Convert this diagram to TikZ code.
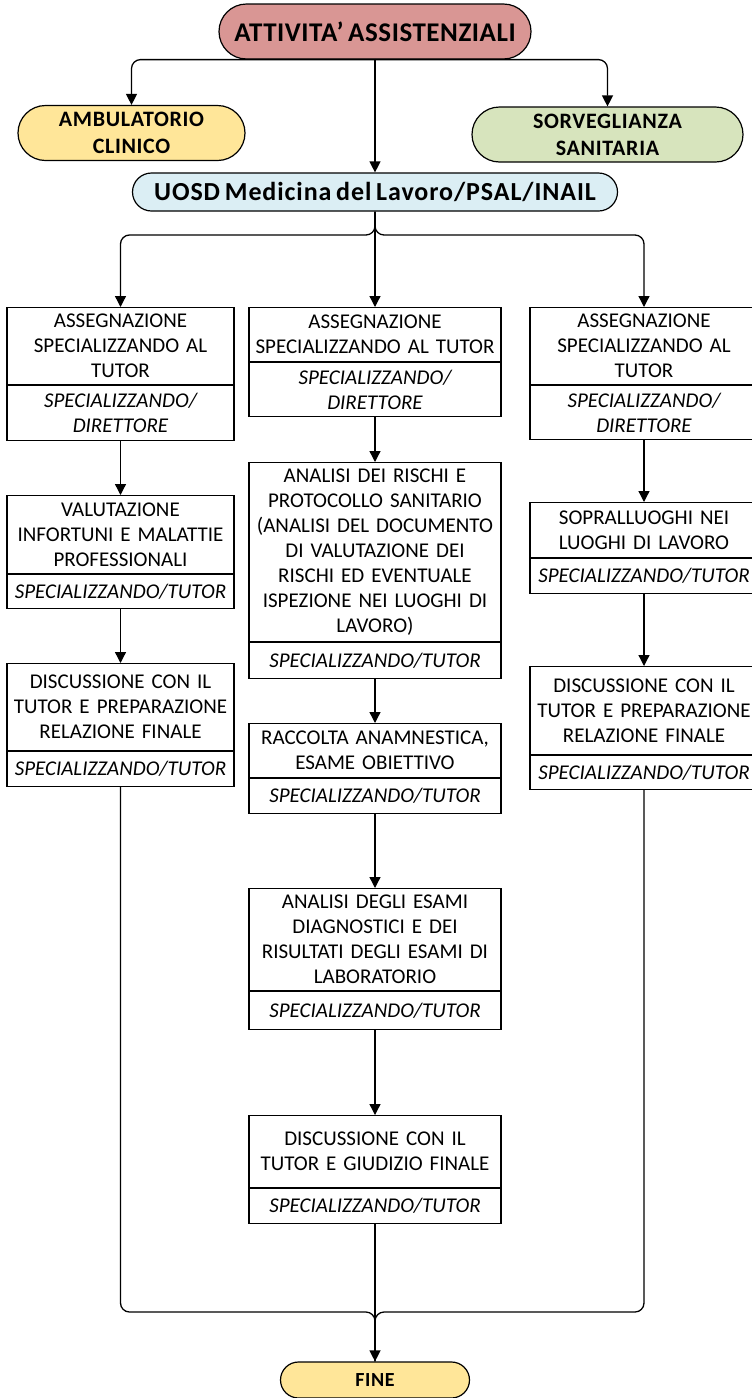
\documentclass[tikz,border=0pt]{standalone}
\usepackage{fontspec}
\setmainfont[WordSpace=0.7]{Carlito}
\usetikzlibrary{arrows.meta, shapes.misc, positioning}

\definecolor{pinkfill}{HTML}{D99694}
\definecolor{goldfill}{HTML}{FFE699}
\definecolor{olivefill}{HTML}{D7E4BD}
\definecolor{aquafill}{HTML}{DBEEF4}

\tikzset{
  term/.style={draw, rounded rectangle, line width=1.2pt, inner sep=0pt, align=center,
    font={\bfseries\fontsize{22}{27}\selectfont\addfontfeature{LetterSpace=3}}},
  task/.style={draw, line width=1.1pt, inner sep=0pt, align=center,
    font=\fontsize{21}{25}\selectfont},
  role/.style={task, font=\itshape\fontsize{21}{25}\selectfont},
  arr/.style={-{Triangle[length=11pt,width=11pt]}, line width=1.3pt},
}

\begin{document}
\begin{tikzpicture}[x=1pt, y=-1pt]
  \useasboundingbox (0,0) rectangle (752,1398);

  % terminals
  \node[term, fill=pinkfill, minimum width=312pt, minimum height=55pt,
    font={\bfseries\fontsize{27}{30}\selectfont\addfontfeature{LetterSpace=2}}] (top) at (375,31.5) {ATTIVITA’ ASSISTENZIALI};
  \node[term, fill=goldfill, minimum width=227pt, minimum height=55pt] (amb) at (131.5,133) {AMBULATORIO\\CLINICO};
  \node[term, fill=olivefill, minimum width=271pt, minimum height=55pt] (sorv) at (607.5,134.5) {SORVEGLIANZA\\SANITARIA};
  \node[term, fill=aquafill, minimum width=485pt, minimum height=38pt,
    font={\bfseries\fontsize{26}{28}\selectfont\addfontfeature{LetterSpace=3.5}}] (uosd) at (375,192) {UOSD Medicina del Lavoro/PSAL/INAIL};
  \node[term, fill=goldfill, minimum width=189pt, minimum height=36pt,
    font={\bfseries\fontsize{20}{24}\selectfont\addfontfeature{LetterSpace=3}}] (fine) at (375,1380) {FINE};

  % left column
  \node[task, anchor=north, text width=227pt, minimum height=77pt] (l1) at (120.5,307) {ASSEGNAZIONE\\SPECIALIZZANDO AL\\TUTOR};
  \node[role, below=0pt of l1, text width=227pt, minimum height=55pt] (l1r) {SPECIALIZZANDO/\\DIRETTORE};
  \node[task, anchor=north, text width=227pt, minimum height=78pt] (l2) at (120.5,495) {VALUTAZIONE\\INFORTUNI E MALATTIE\\PROFESSIONALI};
  \node[role, below=0pt of l2, text width=227pt, minimum height=34pt] (l2r) {SPECIALIZZANDO/TUTOR};
  \node[task, anchor=north, text width=227pt, minimum height=87pt] (l3) at (120.5,663) {DISCUSSIONE CON IL\\TUTOR E PREPARAZIONE\\RELAZIONE FINALE};
  \node[role, below=0pt of l3, text width=227pt, minimum height=35pt] (l3r) {SPECIALIZZANDO/TUTOR};

  % middle column
  \node[task, anchor=north, text width=252pt, minimum height=54pt] (m1) at (375,307) {ASSEGNAZIONE\\SPECIALIZZANDO AL TUTOR};
  \node[role, below=0pt of m1, text width=252pt, minimum height=54pt] (m1r) {SPECIALIZZANDO/\\DIRETTORE};
  \node[task, anchor=north, text width=252pt, minimum height=179pt] (m2) at (375,462) {ANALISI DEI RISCHI E\\PROTOCOLLO SANITARIO\\(ANALISI DEL DOCUMENTO\\DI VALUTAZIONE DEI\\RISCHI ED EVENTUALE\\ISPEZIONE NEI LUOGHI DI\\LAVORO)};
  \node[role, below=0pt of m2, text width=252pt, minimum height=36pt] (m2r) {SPECIALIZZANDO/TUTOR};
  \node[task, anchor=north, text width=252pt, minimum height=54pt] (m3) at (375,723) {RACCOLTA ANAMNESTICA,\\ESAME OBIETTIVO};
  \node[role, below=0pt of m3, text width=252pt, minimum height=35pt] (m3r) {SPECIALIZZANDO/TUTOR};
  \node[task, anchor=north, text width=252pt, minimum height=102pt] (m4) at (375,888) {ANALISI DEGLI ESAMI\\DIAGNOSTICI E DEI\\RISULTATI DEGLI ESAMI DI\\LABORATORIO};
  \node[role, below=0pt of m4, text width=252pt, minimum height=38pt] (m4r) {SPECIALIZZANDO/TUTOR};
  \node[task, anchor=north, text width=252pt, minimum height=72pt] (m5) at (375,1115) {DISCUSSIONE CON IL\\TUTOR E GIUDIZIO FINALE};
  \node[role, below=0pt of m5, text width=252pt, minimum height=35pt] (m5r) {SPECIALIZZANDO/TUTOR};

  % right column
  \node[task, anchor=north, text width=228pt, minimum height=77pt] (r1) at (644,307) {ASSEGNAZIONE\\SPECIALIZZANDO AL\\TUTOR};
  \node[role, below=0pt of r1, text width=228pt, minimum height=54pt] (r1r) {SPECIALIZZANDO/\\DIRETTORE};
  \node[task, anchor=north, text width=228pt, minimum height=55pt] (r2) at (644,502) {SOPRALLUOGHI NEI\\LUOGHI DI LAVORO};
  \node[role, below=0pt of r2, text width=228pt, minimum height=35pt] (r2r) {SPECIALIZZANDO/TUTOR};
  \node[task, anchor=north, text width=228pt, minimum height=88pt] (r3) at (644,666) {DISCUSSIONE CON IL\\TUTOR E PREPARAZIONE\\RELAZIONE FINALE};
  \node[role, below=0pt of r3, text width=228pt, minimum height=34pt] (r3r) {SPECIALIZZANDO/TUTOR};

  \coordinate (fork) at (375,235);
  \coordinate (join) at (375,1312);

  % connectors
  \draw[arr, rounded corners=9pt] (top.south) -| (amb.north);
  \draw[arr, rounded corners=9pt] (top.south) -| (sorv.north);
  \draw[arr] (top.south) -- (uosd.north);

  \draw[arr, rounded corners=9pt] (uosd.south) -- (fork) -| (l1.north);
  \draw[arr, rounded corners=9pt] (uosd.south) -- (fork) -| (r1.north);
  \draw[arr] (uosd.south) -- (m1.north);

  \foreach \a/\b in {l1r/l2, l2r/l3, m1r/m2, m2r/m3, m3r/m4, m4r/m5, r1r/r2, r2r/r3}
    \draw[arr] (\a.south) -- (\b.north);

  \draw[line width=1.3pt, rounded corners=9pt] (l3r.south) |- (join) -- (fine.north);
  \draw[line width=1.3pt, rounded corners=9pt] (r3r.south) |- (join) -- (fine.north);
  \draw[arr] (m5r.south) -- (fine.north);
\end{tikzpicture}
\end{document}
